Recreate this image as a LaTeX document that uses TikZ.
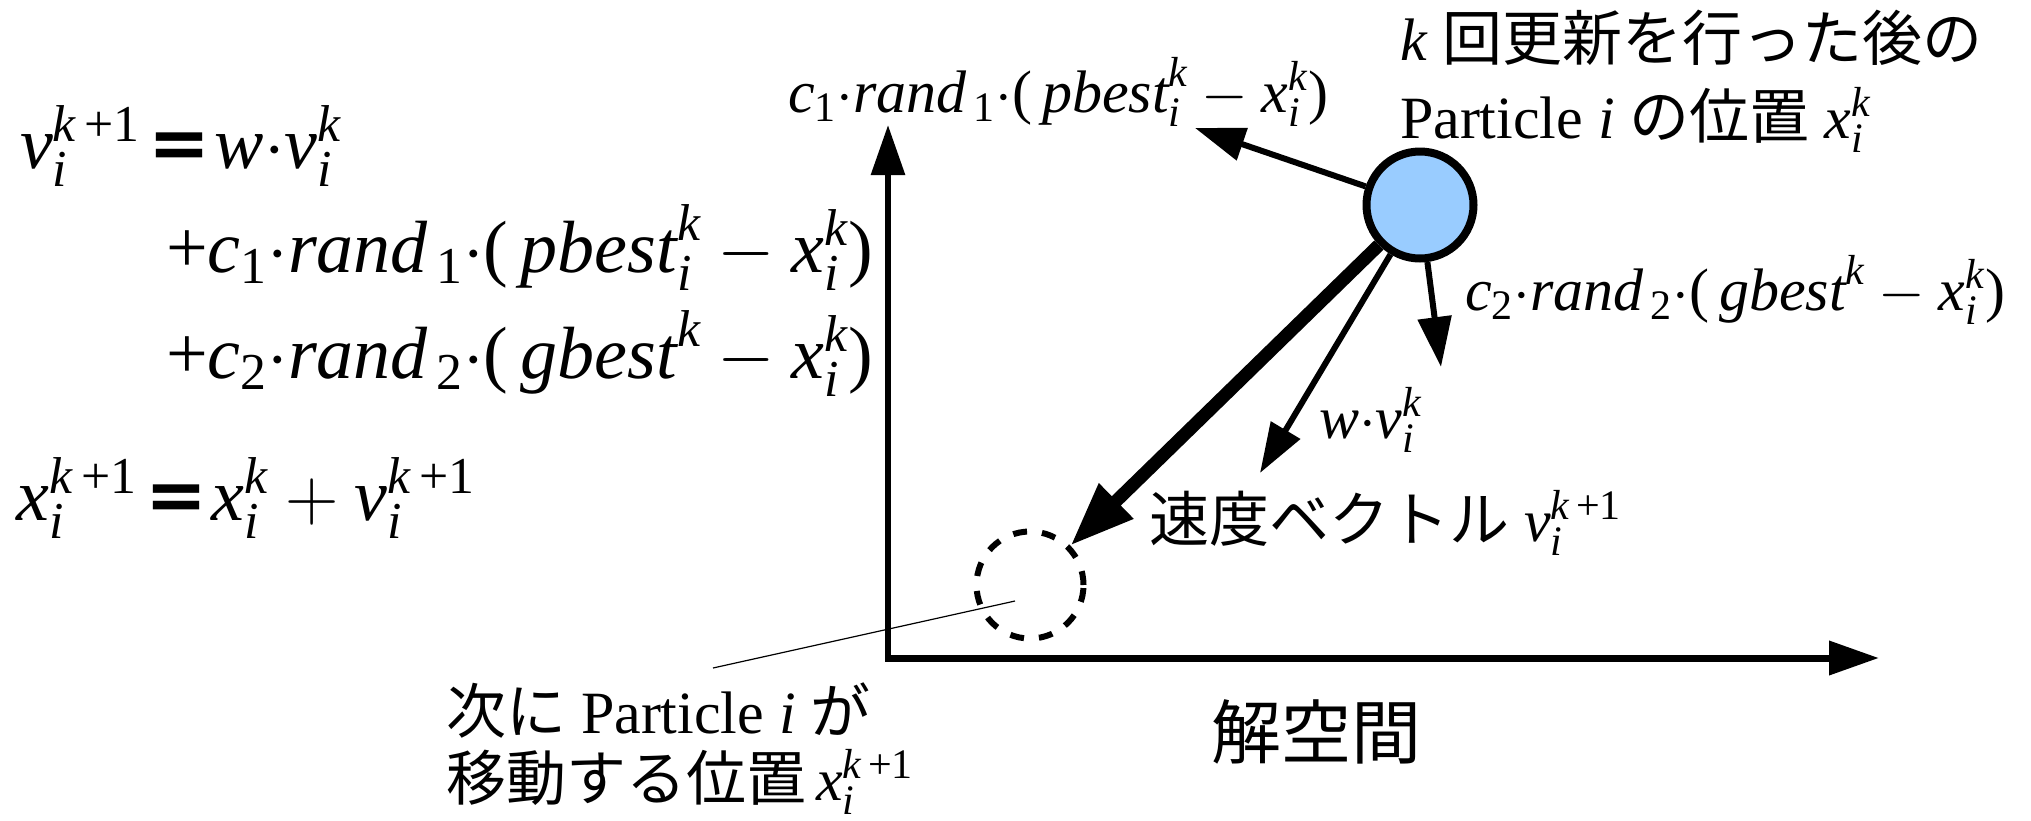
\RequirePackage{fix-cm}
\documentclass[tikz,border=0pt]{standalone}
\usepackage{amsmath}
\usepackage{fontspec}
\setmainfont{Liberation Serif}
\newfontfamily\cjk{Noto Sans CJK JP}
\newfontfamily\eqfont{DejaVu Sans}
\usetikzlibrary{arrows.meta}
\definecolor{pfill}{HTML}{99CCFF}
\newcommand\I[1]{\textit{#1}}
\newcommand\U[1]{\textup{#1}}
\newcommand\bigeq{\mkern2mu\mathord{\text{\eqfont\bfseries =}}\mkern1mu}
\newcommand\kp{\I{k}\,\U{+1}}
\tikzset{
  txt/.style={inner sep=0pt, outer sep=0pt, anchor=base west},
  eqtxt/.style={txt, font=\fontsize{37}{44}\selectfont},
  lbl/.style={txt, font=\fontsize{30}{36}\selectfont},
  jlbl/.style={txt, font=\fontsize{30}{36}\selectfont},
  vec/.style={line width=3pt, -{Triangle[length=25pt,width=16.5pt]}},
  bigvec/.style={line width=6.5pt, -{Triangle[length=32pt,width=23pt]}},
  axis/.style={line width=3.5pt, -{Triangle[length=25pt,width=16.5pt]}},
  particle/.style={circle, draw, line width=4pt, fill=pfill, minimum size=53.5pt, inner sep=0pt},
  nextpos/.style={circle, draw, line width=3pt, dash pattern=on 7pt off 7.5pt, minimum size=53.5pt, inner sep=0pt},
}
\begin{document}
\begin{tikzpicture}[x=0.5pt,y=-0.5pt]
\useasboundingbox (0,0) rectangle (2031,820);
% left equations
\node[eqtxt] (eq1) at (20,168) {$\I{v}_{\I{i}}^{\kp}\bigeq\I{w}{\cdot}\I{v}_{\I{i}}^{\I{k}}$};
\node[eqtxt] (eq2) at (166,272) {$\U{+}\I{c}_{\U{1}}{\cdot}\I{rand}_{\,\U{1}}{\cdot}\U{(}\,\I{pbest}_{\I{i}}^{\I{k}}-\I{x}_{\I{i}}^{\I{k}}\U{)}$};
\node[eqtxt] (eq3) at (166,378) {$\U{+}\I{c}_{\U{2}}{\cdot}\I{rand}_{\,\U{2}}{\cdot}\U{(}\,\I{gbest}^{\I{k}}-\I{x}_{\I{i}}^{\I{k}}\U{)}$};
\node[eqtxt] (eq4) at (17,520) {$\I{x}_{\I{i}}^{\kp}\bigeq\I{x}_{\I{i}}^{\I{k}}+\I{v}_{\I{i}}^{\kp}$};
% axes
\coordinate (O) at (888,660);
\coordinate (Ytip) at (888,125);
\coordinate (Xtip) at (1879,658);
\draw[axis, line width=3pt] (O) -- (Ytip);
\draw[axis] ([xshift=-1.5pt]O |- Xtip) -- (Xtip);
% particles
\node[particle] (p) at (1420,205) {};
\node[nextpos] (n) at (1030,585) {};
% vector tips
\coordinate (t1) at (1195,128);
\coordinate (t2) at (1441,367);
\coordinate (tw) at (1260,473);
\draw[vec] (p) -- (t1);
\draw[vec] (p) -- (t2);
\draw[vec] (p) -- (tw);
\draw[bigvec] (p) -- (n);
% pointer
\coordinate (ps) at (713,668);
\coordinate (pe) at (1015,601);
\draw[line width=0.6pt] (ps) -- (pe);
% labels
\node[lbl] (l1) at (788,112) {$\I{c}_{\U{1}}{\cdot}\I{rand}_{\,\U{1}}{\cdot}\U{(}\,\I{pbest}_{\I{i}}^{\I{k}}-\I{x}_{\I{i}}^{\I{k}}\U{)}$};
\node[lbl] (l2) at (1465,310) {$\I{c}_{\U{2}}{\cdot}\I{rand}_{\,\U{2}}{\cdot}\U{(}\,\I{gbest}^{\I{k}}-\I{x}_{\I{i}}^{\I{k}}\U{)}$};
\node[lbl] (lw) at (1319,438) {$\I{w}{\cdot}\I{v}_{\I{i}}^{\I{k}}$};
\node[jlbl] (k1) at (1400,60) {\I{k} {\cjk 回更新を行った後の}};
\node[jlbl] (k2) at (1400,138) {Particle \I{i} {\cjk の位置} $\I{x}_{\I{i}}^{\I{k}}$};
\node[jlbl] (sp) at (1149,541) {{\cjk 速度ベクトル} $\I{v}_{\I{i}}^{\kp}$};
\node[jlbl] (nx1) at (446,733) {{\cjk 次に} Particle \I{i} {\cjk が}};
\node[jlbl] (nx2) at (446,800) {{\cjk 移動する位置}\,$\I{x}_{\I{i}}^{\kp}$};
\node[txt, anchor=base, font=\fontsize{35}{42}\selectfont] (sol) at (1316,758) {\cjk 解空間};
\end{tikzpicture}
\end{document}
